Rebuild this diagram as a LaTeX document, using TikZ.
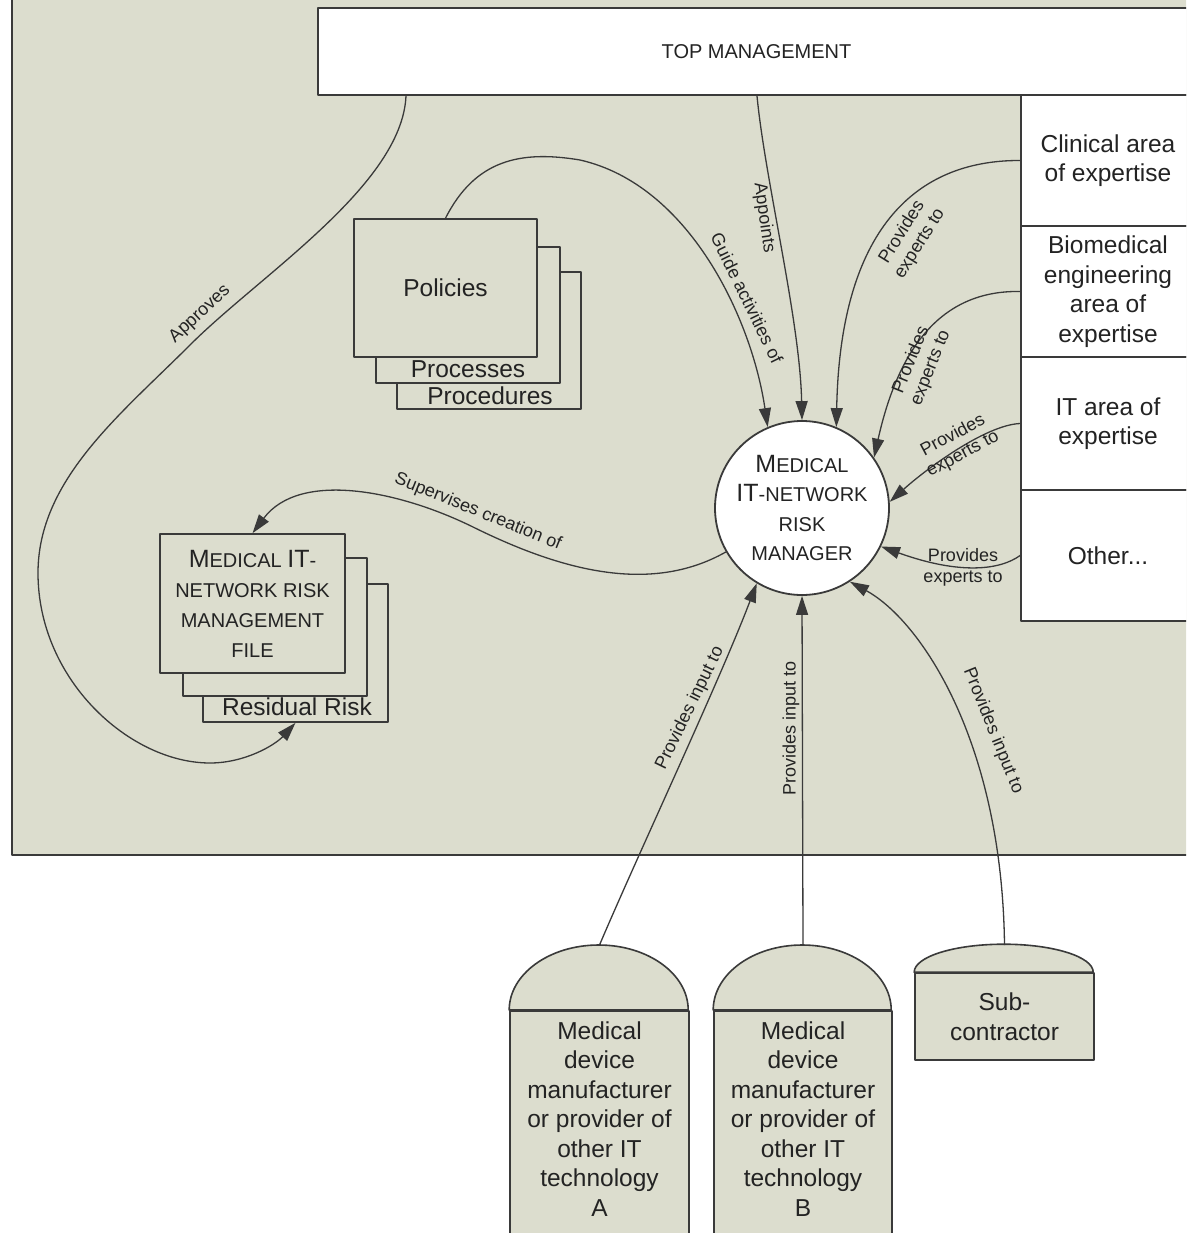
\documentclass[tikz,border=0pt]{standalone}
\usepackage{fontspec}
\setmainfont{Liberation Sans}
\usetikzlibrary{arrows.meta}
\definecolor{mitn-panel}{HTML}{DCDDCE}
\definecolor{mitn-ink}{HTML}{232323}
\definecolor{mitn-line}{HTML}{3A3A3A}
\newcommand{\capsbig}[1]{{\fontsize{25}{30}\selectfont #1}}

\begin{document}
\begin{tikzpicture}[x=1pt, y=-1pt, >={Triangle[length=19pt,width=12pt]}, line join=round,
  box/.style={draw=mitn-line, line width=1.8pt, fill=white, inner sep=0pt, text=mitn-ink,
    font=\fontsize{24.5}{29.5}\selectfont, align=center},
  sheet/.style={draw=mitn-line, line width=1.6pt, fill=mitn-panel, inner sep=0pt},
  txt/.style={text=mitn-ink, inner sep=0pt, font=\fontsize{24.5}{29.5}\selectfont, align=center},
  caps/.style={text=mitn-ink, inner sep=0pt, font=\fontsize{20}{30}\selectfont, align=center},
  lbl/.style={text=mitn-ink, inner sep=0pt, font=\fontsize{18}{21}\selectfont, align=center},
  link/.style={draw=mitn-line, line width=1.3pt, ->}]
  \useasboundingbox (0,0) rectangle (1186,1233);
  \clip (0,0) rectangle (1186,1233);
  \fill[white] (0,0) rectangle (1186,1233);
  \draw[draw=mitn-line, line width=2.5pt, fill=mitn-panel] (12,-20) rectangle (1210,855);

  \node[box, minimum width=877pt, minimum height=87pt, font=\fontsize{20}{24}\selectfont]
    (tm) at (756.5,51.5) {TOP MANAGEMENT};
  \node[box, minimum width=174pt, minimum height=131pt] (clin) at (1108,160.5) {Clinical area\\of expertise};
  \node[box, minimum width=174pt, minimum height=131pt] (biomed) at (1108,291.5)
    {Biomedical\\engineering\\area of\\expertise};
  \node[box, minimum width=174pt, minimum height=133pt] (itarea) at (1108,423.5) {IT area of\\expertise};
  \node[box, minimum width=174pt, minimum height=131pt] (other) at (1108,555.5) {Other...};

  \node[sheet, minimum width=184pt, minimum height=137pt] (polC) at (489,340.5) {};
  \node[txt] (proceduretxt) at (490,396) {Procedures};
  \node[sheet, minimum width=184pt, minimum height=136pt] (polB) at (468,315) {};
  \node[txt] (processtxt) at (468,369) {Processes};
  \node[sheet, txt, minimum width=183pt, minimum height=138pt] (polA) at (445.5,288) {Policies};

  \node[sheet, minimum width=185pt, minimum height=138pt] (fileC) at (295.5,653) {};
  \node[txt] (residtxt) at (297,707) {Residual Risk};
  \node[sheet, minimum width=184pt, minimum height=138pt] (fileB) at (275,627) {};
  \node[sheet, caps, minimum width=185pt, minimum height=139pt] (fileA) at (252.5,603.5)
    {\capsbig{M}EDICAL \capsbig{IT}-\\NETWORK RISK\\MANAGEMENT\\FILE};

  \node[circle, draw=mitn-line, line width=1.8pt, fill=white, minimum size=174pt, caps,
    font=\fontsize{20}{29.5}\selectfont] (mgr) at (802,508)
    {\capsbig{M}EDICAL\\\capsbig{IT}-NETWORK\\RISK\\MANAGER};

  \node[sheet, minimum width=179pt, minimum height=240pt, anchor=north] (tomA) at (599.5,1010) {};
  \draw[sheet] (tomA.north west) arc[start angle=180, end angle=0, x radius=89.5pt, y radius=65pt] -- cycle;
  \coordinate (domeA) at (599.5,945);
  \node[txt] (tomAtxt) at (599.5,1119)
    {Medical\\device\\manufacturer\\or provider of\\other IT\\technology\\A};
  \node[sheet, minimum width=178pt, minimum height=240pt, anchor=north] (tomB) at (803,1010) {};
  \draw[sheet] (tomB.north west) arc[start angle=180, end angle=0, x radius=89pt, y radius=65pt] -- cycle;
  \coordinate (domeB) at (803,945);
  \node[txt] (tomBtxt) at (803,1119)
    {Medical\\device\\manufacturer\\or provider of\\other IT\\technology\\B};
  \node[sheet, txt, minimum width=179pt, minimum height=87pt] (sub) at (1004.5,1016.5) {Sub-\\contractor};
  \draw[sheet] (sub.north west) arc[start angle=180, end angle=0, x radius=89.5pt, y radius=28pt] -- cycle;
  \coordinate (domeS) at (1004.5,945);

  \draw[link] ([xshift=-350.5pt]tm.south) .. controls (402,185) and (260,275) .. (190,345)
    .. controls (120,415) and (38,480) .. (38,573)
    .. controls (38,680) and (130,763) .. (210,763)
    .. controls (245,763) and (275,745) .. (fileC.south);
  \node[lbl, rotate=43] (lapprove) at (200,314) {Approves};
  \draw[link] (mgr.210) .. controls (650,595) and (560,570) .. (473,527)
    .. controls (400,491) and (300,470) .. (fileA.north);
  \node[lbl, rotate=-22] (lsupervise) at (478,512) {Supervises creation of};
  \draw[link] (polA.north) .. controls (475,160) and (520,150) .. (580,160)
    .. controls (690,185) and (752,320) .. (mgr.113);
  \node[lbl, rotate=-64] (lguide) at (747,298) {Guide activities of};
  \draw[link] ([xshift=0.5pt]tm.south) .. controls (765,180) and (800,320) .. (mgr.north);
  \node[lbl, rotate=-82] (lappoint) at (764,218) {Appoints};

  \draw[link] (clin.west) .. controls (915,160) and (840,230) .. (mgr.67);
  \node[lbl, rotate=58] (lclin) at (911,238) {Provides\\experts to};
  \draw[link] (biomed.west) .. controls (940,290) and (898,350) .. (mgr.35);
  \node[lbl, rotate=68] (lbiomed) at (921,364) {Provides\\experts to};
  \draw[link] (itarea.west) .. controls (985,425) and (925,470) .. (mgr.4);
  \node[lbl, rotate=28] (litarea) at (958,445) {Provides\\experts to};
  \draw[link] (other.west) .. controls (1000,570) and (960,575) .. (mgr.-26);
  \node[lbl] (lother) at (963,567) {Provides\\experts to};

  \draw[link] (domeA) .. controls (640,850) and (720,680) .. (mgr.-121);
  \node[lbl, rotate=64] (linputA) at (690,708) {Provides input to};
  \draw[link] (domeB) -- (mgr.south);
  \node[lbl, rotate=90] (linputB) at (791,728) {Provides input to};
  \draw[link] (domeS) .. controls (1002,740) and (920,620) .. (mgr.-57);
  \node[lbl, rotate=-68] (linputS) at (993,731) {Provides input to};
\end{tikzpicture}
\end{document}
